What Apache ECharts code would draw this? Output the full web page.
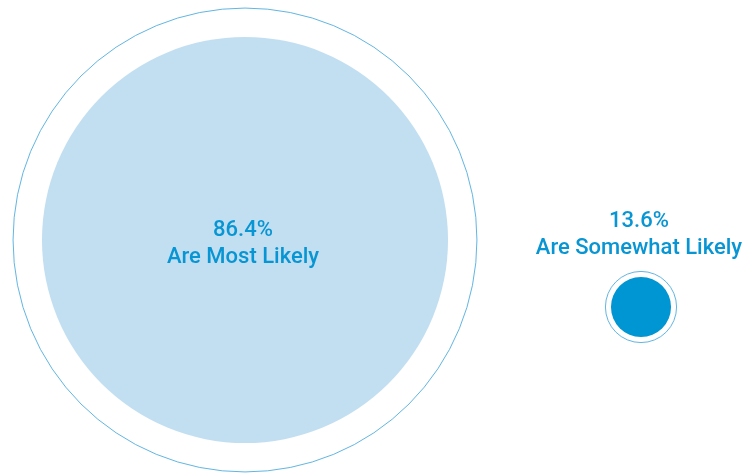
<!DOCTYPE html>
<html>
<head>
<meta charset="utf-8">
<script src="https://cdn.jsdelivr.net/npm/echarts@6/dist/echarts.min.js"></script>
<style>
  html, body { margin: 0; padding: 0; background: #ffffff; }
  #chart { width: 751px; height: 473px; }
</style>
</head>
<body>
<div id="chart"></div>
<script>
// Share of respondents by likelihood
const categories = ['Are Most Likely', 'Are Somewhat Likely'];
const shares = [86.4, 13.6];
const fillColors = ['#c2dff1', '#0095d3'];
const labelPositions = ['inside', 'top'];

// bubble diameter grows linearly with the share; a thin ring sits around each bubble
const diameterOf = v => v * 4.753 - 4.6;
const ringOf = v => diameterOf(v) * 1.135 + 3;

const chart = echarts.init(document.getElementById('chart'));

const points = categories.map((c, i) => [c, c, shares[i]]);

chart.setOption({
  animation: false,
  backgroundColor: '#ffffff',
  grid: { left: 245, right: 110, top: 240, bottom: 166 },
  xAxis: { type: 'category', data: categories, boundaryGap: false, show: false },
  yAxis: { type: 'category', data: categories, boundaryGap: false, inverse: true, show: false },
  series: [
    {
      name: 'ring',
      type: 'scatter',
      silent: true,
      symbolSize: d => ringOf(d[2]),
      itemStyle: { color: 'rgba(0,0,0,0)', borderColor: '#62b6e2', borderWidth: 1, opacity: 1 },
      data: points,
      z: 1
    },
    {
      name: 'share',
      type: 'scatter',
      symbolSize: d => diameterOf(d[2]),
      data: points.map((p, i) => ({
        value: p,
        itemStyle: { color: fillColors[i], opacity: 1 },
        label: {
          show: true,
          position: labelPositions[i],
          distance: 15,
          offset: labelPositions[i] === 'inside' ? [-2, 4] : [-2, 0],
          formatter: () => shares[i].toFixed(1) + '%\n' + categories[i],
          color: '#0795d3',
          fontFamily: 'Roboto',
          fontWeight: 500,
          fontSize: 22,
          lineHeight: 27,
          align: 'center'
        }
      })),
      z: 2
    }
  ]
});
</script>
</body>
</html>
